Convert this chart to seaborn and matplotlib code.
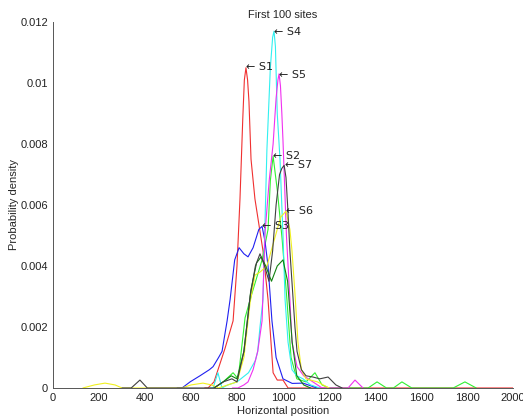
import pandas as pd
import matplotlib
matplotlib.use("Agg")
import matplotlib.pyplot as plt
import seaborn as sns
from matplotlib.ticker import FuncFormatter

# density curves (x = horizontal position, y = density)
s1_x = [660, 674, 700, 748, 783, 800, 813, 825, 832, 839, 846, 852, 861, 878, 913, 935, 957, 975, 1000, 1022, 2000]
s1_y = [0, 0, 0.0002, 0.0013, 0.0022, 0.0040, 0.0062, 0.0088, 0.0101, 0.0105, 0.0101, 0.0094, 0.0075, 0.0062,
        0.0045, 0.0029, 0.0005, 0.00026, 0.00026, 0, 0]

s2_x = [700, 740, 783, 805, 835, 865, 909, 935, 945, 957, 975, 996, 1017, 1035, 1060, 1100, 1139, 1170, 1200,
        1370, 1409, 1450, 1480, 1517, 1560, 1740, 1791, 1840]
s2_y = [0, 0.0002, 0.0005, 0.0003, 0.0023, 0.0031, 0.0042, 0.0052, 0.0068, 0.0076, 0.0065, 0.0049, 0.0029, 0.0010,
        0.0003, 0.0002, 0.0005, 0.0001, 0, 0, 0.0002, 0, 0, 0.0002, 0, 0, 0.0002, 0]

s3_x = [540, 561, 596, 639, 680, 696, 720, 735, 757, 770, 790, 809, 830, 848, 870, 895, 909, 922, 935, 952, 970,
        1000, 1040, 1087, 1148]
s3_y = [0, 0, 0.0002, 0.0004, 0.0006, 0.0007, 0.0010, 0.0012, 0.0022, 0.0029, 0.0042, 0.0046, 0.0044, 0.0043,
        0.0046, 0.0052, 0.0053, 0.0048, 0.0040, 0.0022, 0.0010, 0.0003, 0.00015, 0.00016, 0]

s4_x = [680, 696, 717, 735, 760, 800, 850, 880, 890, 900, 913, 930, 945, 955, 961, 967, 975, 987, 1000, 1009, 1022,
        1039, 1060, 1087, 1120, 1160]
s4_y = [0, 0, 0.0005, 0, 0.0001, 0.0002, 0.0005, 0.0009, 0.0012, 0.0020, 0.0029, 0.0078, 0.0105, 0.0115, 0.0117,
        0.0112, 0.0090, 0.0075, 0.0050, 0.0029, 0.0015, 0.0006, 0.0004, 0.0003, 0.0001, 0]

s5_x = [780, 804, 830, 848, 870, 890, 909, 922, 940, 957, 970, 978, 983, 989, 995, 1000, 1015, 1030, 1039, 1061,
        1090, 1130, 1170, 1283, 1313, 1348]
s5_y = [0, 0, 0.0001, 0.0002, 0.0006, 0.0012, 0.0022, 0.0051, 0.0068, 0.0080, 0.0095, 0.0101, 0.0103, 0.0099,
        0.0090, 0.0081, 0.0050, 0.0029, 0.0015, 0.0007, 0.0004, 0.0002, 0, 0, 0.00026, 0]

s6_x = [130, 180, 226, 270, 300, 560, 600, 652, 690, 720, 800, 830, 857, 878, 900, 930, 960, 990, 1013, 1030,
        1039, 1052, 1065, 1080, 1100, 1150, 1200]
s6_y = [0, 0.0001, 0.00016, 0.0001, 0, 0, 0.0001, 0.00016, 0.0001, 0, 0.0002, 0.0010, 0.0028, 0.0037, 0.0038,
        0.0040, 0.0048, 0.0056, 0.0058, 0.0052, 0.0045, 0.0031, 0.0015, 0.0006, 0.0003, 0.0002, 0]

s7_x = [300, 340, 378, 410, 700, 740, 778, 800, 830, 857, 880, 900, 920, 939, 955, 970, 985, 995, 1005, 1013,
        1020, 1030, 1052, 1061, 1080, 1100, 1130, 1160, 1196, 1230, 1257]
s7_y = [0, 0, 0.00026, 0, 0, 0.0002, 0.0003, 0.0002, 0.0012, 0.0030, 0.0040, 0.0044, 0.0040, 0.0035, 0.0045,
        0.0060, 0.0070, 0.0072, 0.0073, 0.0069, 0.0060, 0.0045, 0.0020, 0.0012, 0.0006, 0.0004, 0.00036,
        0.0003, 0.00036, 0.0001, 0]

# extra dark green curve (unlabelled)
s8_x = [700, 740, 775, 800, 830, 860, 885, 905, 925, 950, 975, 1000, 1020, 1040, 1060, 1090, 1120]
s8_y = [0, 0.0002, 0.0004, 0.0003, 0.0012, 0.0032, 0.0041, 0.0043, 0.0040, 0.0035, 0.0040, 0.0042, 0.0035,
        0.0015, 0.0004, 0.0001, 0]

labels = ["S1", "S2", "S3", "S4", "S5", "S6", "S7"]
label_x = [839, 957, 909, 961, 983, 1013, 1009]
label_y = [0.01052, 0.0076, 0.0053, 0.01167, 0.01026, 0.0058, 0.0073]

curves = [(s1_x, s1_y, "#f03030"), (s2_x, s2_y, "#30f030"), (s3_x, s3_y, "#2020f0"),
          (s4_x, s4_y, "#30f0f0"), (s5_x, s5_y, "#f030f0"), (s6_x, s6_y, "#f0f020"),
          (s8_x, s8_y, "#108010"), (s7_x, s7_y, "#404040")]

sns.set_style("white")
plt.rcParams['font.family'] = ['Liberation Sans', 'DejaVu Sans']

fig = plt.figure(figsize=(5.23, 4.19), dpi=100)
ax = fig.add_axes([0.1013, 0.074, 0.8796, 0.8735])

for xs, ys, c in curves:
    df = pd.DataFrame({"x": xs, "y": ys})
    sns.lineplot(data=df, x="x", y="y", color=c, linewidth=0.8, ax=ax, sort=False)

for lab, lx, ly in zip(labels, label_x, label_y):
    ax.text(lx, ly, "\u2190 " + lab, fontsize=8, va="center", ha="left",
            family=['DejaVu Sans'], color="#222222")

ax.set_xlim(0, 2000)
ax.set_ylim(0, 0.012)
ax.set_xticks(range(0, 2001, 200))
ax.set_yticks([0, 0.002, 0.004, 0.006, 0.008, 0.01, 0.012])
ax.yaxis.set_major_formatter(FuncFormatter(lambda v, p: "%g" % round(v, 4)))
ax.tick_params(direction="in", length=3, width=0.6, labelsize=8, colors="#222222")
ax.spines["top"].set_visible(False)
ax.spines["right"].set_visible(False)
for s in ["left", "bottom"]:
    ax.spines[s].set_color("#555555")
    ax.spines[s].set_linewidth(0.7)

ax.set_xlabel("Horizontal position", fontsize=8, labelpad=2)
ax.set_ylabel("Probability density", fontsize=8)
ax.yaxis.set_label_coords(-0.073, 0.5)
ax.set_title("First 100 sites", fontsize=8, pad=3)

fig.savefig("out.png", dpi=100)
